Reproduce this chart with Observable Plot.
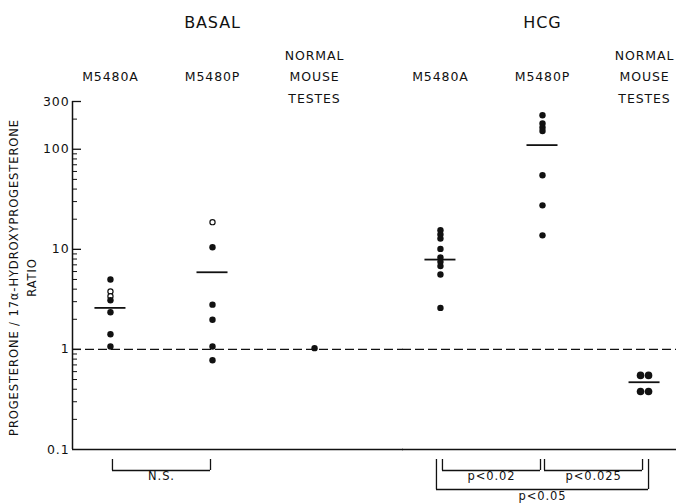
<!DOCTYPE html>
<html>
<head>
<meta charset="utf-8">
<script src="https://cdn.jsdelivr.net/npm/d3@7"></script>
<script src="https://cdn.jsdelivr.net/npm/@observablehq/plot@0.6"></script>
<style>
  html, body { margin: 0; padding: 0; background: #fff; }
  #chart svg { display: block; }
  #chart svg text { letter-spacing: 0.9px; }
</style>
</head>
<body>
<div id="chart"></div>
<script>
// ---------------- data ----------------
const treatments = ["BASAL", "HCG"];
const strains = ["M5480A", "M5480P", "NMT"];
const strainLabels = ["M5480A", "M5480P", "NORMAL\nMOUSE\nTESTES"];

const yDomain = [0.1, 300];
const yTicks = [0.1, 1, 10, 100, 300];
const yTickLabels = ["0.1", "1", "10", "100", "300"];
const yMinorTicks = [0.2, 0.3, 0.4, 0.5, 0.6, 0.7, 0.8, 0.9,
                     2, 3, 4, 5, 6, 7, 8, 9,
                     20, 30, 40, 50, 60, 70, 80, 90, 200];
const refValue = 1;
const yTitle = "PROGESTERONE / 17α-HYDROXYPROGESTERONE\nRATIO";

// individual ratios (filled = solid dots, open = open circles)
const basalM5480AFilled = [5.0, 3.1, 2.35, 1.42, 1.07];
const basalM5480AOpen = [3.8, 3.4];
const basalM5480PFilled = [10.5, 2.8, 1.98, 1.07, 0.78];
const basalM5480POpen = [18.7];
const basalNMTFilled = [1.03];
const hcgM5480AFilled = [15.5, 14.1, 12.8, 10.1, 8.3, 7.5, 6.8, 5.6, 2.6];
const hcgM5480PFilled = [219, 181, 165, 152, 55, 27.5, 13.8];
const hcgNMTLeft = [0.55, 0.38];
const hcgNMTRight = [0.55, 0.38];

// group means (horizontal bars)
const meanTreatment = ["BASAL", "BASAL", "HCG", "HCG", "HCG"];
const meanStrain = ["M5480A", "M5480P", "M5480A", "M5480P", "NMT"];
const meanValue = [2.6, 5.9, 7.9, 110, 0.47];

// significance brackets
const bracketTreatment = ["BASAL", "HCG", "HCG", "HCG"];
const bracketFrom = ["M5480A", "M5480A", "M5480P", "M5480A"];
const bracketTo = ["M5480P", "M5480P", "NMT", "NMT"];
const bracketLabel = ["N.S.", "p<0.02", "p<0.025", "p<0.05"];
const bracketLevel = [0, 0, 0, 1];

// ---------------- layout ----------------
const W = 676, H = 504;
const marginLeft = 72, marginRight = -6, marginTop = 101, marginBottom = 55;
const fxPaddingInner = 0.1515;
const xPaddingInner = 0.696, xPaddingOuter = 0.22;
const fxStep = (W - marginLeft - marginRight) / (treatments.length - fxPaddingInner);
const facetGapPx = fxStep * fxPaddingInner;
const facetWidthPx = fxStep - facetGapPx;
const xStepPx = facetWidthPx / (strains.length - xPaddingInner + 2 * xPaddingOuter);
const bandPx = xStepPx * (1 - xPaddingInner);
const firstCenterPx = xStepPx * xPaddingOuter + bandPx / 2;
const majorTickLen = 9, minorTickLen = 5;
const ink = "#111";

// ---------------- tables ----------------
const rows = (treatment, strain, values) => values.map(value => ({treatment, strain, value}));
const filledRows = [
  ...rows("BASAL", "M5480A", basalM5480AFilled),
  ...rows("BASAL", "M5480P", basalM5480PFilled),
  ...rows("BASAL", "NMT", basalNMTFilled),
  ...rows("HCG", "M5480A", hcgM5480AFilled),
  ...rows("HCG", "M5480P", hcgM5480PFilled)
];
const openRows = [
  ...rows("BASAL", "M5480A", basalM5480AOpen),
  ...rows("BASAL", "M5480P", basalM5480POpen)
];
const nmtLeftRows = rows("HCG", "NMT", hcgNMTLeft);
const nmtRightRows = rows("HCG", "NMT", hcgNMTRight);
const meanRows = meanValue.map((value, i) => ({treatment: meanTreatment[i], strain: meanStrain[i], value}));
const labelRows = treatments.flatMap(t => strains.map((s, i) => ({treatment: t, strain: s, label: strainLabels[i]})));
const headingRows = treatments.map(t => ({treatment: t, strain: strains[1], label: t}));
const axisFacet = treatments[0];
const titleRows = [{treatment: axisFacet, text: yTitle}];
const axisLineRows = [{treatment: axisFacet, strain: strains[0]}];
const majorTickRows = yTicks.slice(1).map(value => ({treatment: axisFacet, value}));
const minorTickRows = yMinorTicks.map(value => ({treatment: axisFacet, value}));
const bracketRows = bracketLabel.map((label, i) => ({
  treatment: bracketTreatment[i], from: bracketFrom[i], to: bracketTo[i], label, level: bracketLevel[i],
  span: strains.indexOf(bracketTo[i]) - strains.indexOf(bracketFrom[i])
}));

// bracket styling per level
const bracketTopGap = 10;
const bracketDrop = [21, 40];
const bracketEndShift = [2, -4];
const bracketTextDy = [30, 50];

const bracketMarks = [0, 1].flatMap(L => {
  const data = bracketRows.filter(d => d.level === L);
  const span = data[0].span;
  const common = {fx: "treatment", stroke: ink, strokeWidth: 1.3};
  return [
    Plot.ruleX(data, {...common, x: "from", y1: yDomain[0], y2: yDomain[0],
      insetTop: bracketTopGap, insetBottom: -bracketDrop[L], dx: bracketEndShift[L]}),
    Plot.ruleX(data, {...common, x: "to", y1: yDomain[0], y2: yDomain[0],
      insetTop: bracketTopGap, insetBottom: -bracketDrop[L], dx: -bracketEndShift[L]}),
    Plot.ruleY(data, {...common, x1: "from", x2: "to", y: yDomain[0], dy: bracketDrop[L],
      insetLeft: bandPx / 2 + bracketEndShift[L], insetRight: bandPx / 2 + bracketEndShift[L]}),
    Plot.text(data, {fx: "treatment", x: "from", text: "label", frameAnchor: "bottom",
      dx: xStepPx * span / 2, dy: bracketTextDy[L], fontSize: 11.5, fill: ink})
  ];
});

const chart = Plot.plot({
  width: W,
  height: H,
  marginLeft, marginRight, marginTop, marginBottom,
  style: {fontFamily: "DejaVu Sans", fontSize: "12px", color: ink, background: "#fff"},
  fx: {domain: treatments, paddingInner: fxPaddingInner, paddingOuter: 0, round: false, axis: null, label: null},
  x: {domain: strains, paddingInner: xPaddingInner, paddingOuter: xPaddingOuter, round: false, axis: null, label: null},
  y: {type: "log", domain: yDomain, axis: null, label: null},
  marks: [
    // axis lines: the rule is centred on the first band, shift it back to the facet's left edge
    Plot.ruleX(axisLineRows, {fx: "treatment", x: "strain", y1: yDomain[0], y2: yDomain[1],
      dx: -firstCenterPx, stroke: ink, strokeWidth: 1.5}),
    Plot.ruleY(treatments, {fx: d => d, y: yDomain[0], insetRight: -(facetGapPx + 1), stroke: ink, strokeWidth: 1.4}),
    Plot.ruleY(treatments, {fx: d => d, y: refValue, insetRight: -(facetGapPx + 1), stroke: ink,
      strokeWidth: 1.2, strokeDasharray: "9,4"}),
    // y axis ticks (inward) and labels
    Plot.tickY(majorTickRows, {fx: "treatment", y: "value", insetRight: facetWidthPx - majorTickLen,
      stroke: ink, strokeWidth: 1.3}),
    Plot.tickY(minorTickRows, {fx: "treatment", y: "value", insetRight: facetWidthPx - minorTickLen,
      stroke: ink, strokeWidth: 1}),
    Plot.axisY({ticks: yTicks, tickFormat: d => yTickLabels[yTicks.indexOf(d)], tickSize: 0, tickPadding: 3,
      fontSize: 12.5, label: null}),
    Plot.text(titleRows, {fx: "treatment", text: "text", frameAnchor: "left", textAnchor: "middle",
      rotate: -90, dx: -51, dy: 2, lineAnchor: "middle", lineHeight: 1.5, fontSize: 11.5, fill: ink}),
    // headings and group labels
    Plot.text(headingRows, {fx: "treatment", x: "strain", text: "label", frameAnchor: "top", dy: -79,
      lineAnchor: "middle", fontSize: 16, fill: ink}),
    Plot.text(labelRows, {fx: "treatment", x: "strain", text: "label", frameAnchor: "top", dy: -27,
      lineAnchor: "middle", lineHeight: 1.7, fontSize: 12.5, fill: ink}),
    // means
    Plot.tickY(meanRows, {fx: "treatment", x: "strain", y: "value", stroke: ink, strokeWidth: 1.8}),
    // points
    Plot.dot(openRows, {fx: "treatment", x: "strain", y: "value", r: 2.6, fill: "#fff", stroke: ink, strokeWidth: 1.2}),
    Plot.dot(filledRows, {fx: "treatment", x: "strain", y: "value", r: 3.2, fill: ink}),
    Plot.dot(nmtLeftRows, {fx: "treatment", x: "strain", y: "value", r: 3.8, fill: ink, dx: -4}),
    Plot.dot(nmtRightRows, {fx: "treatment", x: "strain", y: "value", r: 3.8, fill: ink, dx: 4}),
    // significance brackets
    ...bracketMarks
  ]
});

document.getElementById("chart").append(chart);
</script>
</body>
</html>
